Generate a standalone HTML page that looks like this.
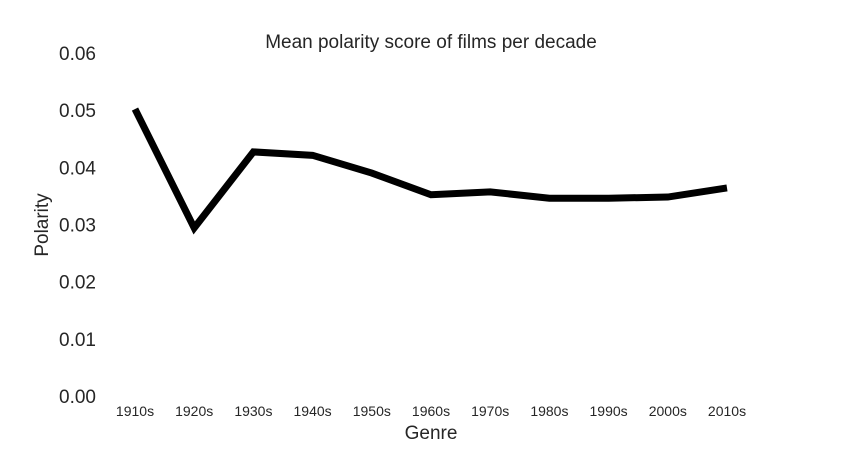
<!DOCTYPE html>
<html><head><meta charset="utf-8">
<style>
html,body{margin:0;padding:0;background:#fff;}
svg{display:block;font-family:"Liberation Sans","DejaVu Sans",sans-serif;}
</style></head>
<body>
<svg id="chart" width="842" height="451" viewBox="0 0 842 451">
<text x="431" y="48" text-anchor="middle" font-size="19" fill="#262626">Mean polarity score of films per decade</text>
<g id="yticks"></g>
<g id="xticks"></g>
<text transform="translate(48,225) rotate(-90)" text-anchor="middle" font-size="19" fill="#262626">Polarity</text>
<text x="431" y="439" text-anchor="middle" font-size="19" fill="#262626">Genre</text>
<path id="line" fill="none" stroke="#000" stroke-width="7" stroke-linejoin="miter" stroke-linecap="butt"></path>
</svg>
<script>
const categories = ["1910s","1920s","1930s","1940s","1950s","1960s","1970s","1980s","1990s","2000s","2010s"];
const polarity = [0.0502,0.0294,0.0427,0.0421,0.0390,0.0352,0.0357,0.0346,0.0346,0.0348,0.0364];
const yTickValues = [0,0.01,0.02,0.03,0.04,0.05,0.06];
const yTickLabels = ["0.00","0.01","0.02","0.03","0.04","0.05","0.06"];

const NS = "http://www.w3.org/2000/svg";
function yScale(v){ return 396 - v/0.06*(396-53); }
function xScale(i){ return 135 + i*(727-135)/(categories.length-1); }

const yg = document.getElementById('yticks');
yTickValues.forEach((v,i)=>{
  const t = document.createElementNS(NS,'text');
  t.setAttribute('x',96); t.setAttribute('y',yScale(v)+7);
  t.setAttribute('text-anchor','end'); t.setAttribute('font-size','19'); t.setAttribute('fill','#262626');
  t.textContent = yTickLabels[i];
  
  
  yg.appendChild(t);
});
const xg = document.getElementById('xticks');
categories.forEach((c,i)=>{
  const t = document.createElementNS(NS,'text');
  t.setAttribute('x',xScale(i)); t.setAttribute('y',416);
  t.setAttribute('text-anchor','middle'); t.setAttribute('font-size','14'); t.setAttribute('fill','#262626');
  t.textContent = c;
  
  
  xg.appendChild(t);
});
document.getElementById('line').setAttribute('d',
  polarity.map((v,i)=>(i?'L':'M')+xScale(i)+','+yScale(v)).join(' '));
</script>
</body></html>
